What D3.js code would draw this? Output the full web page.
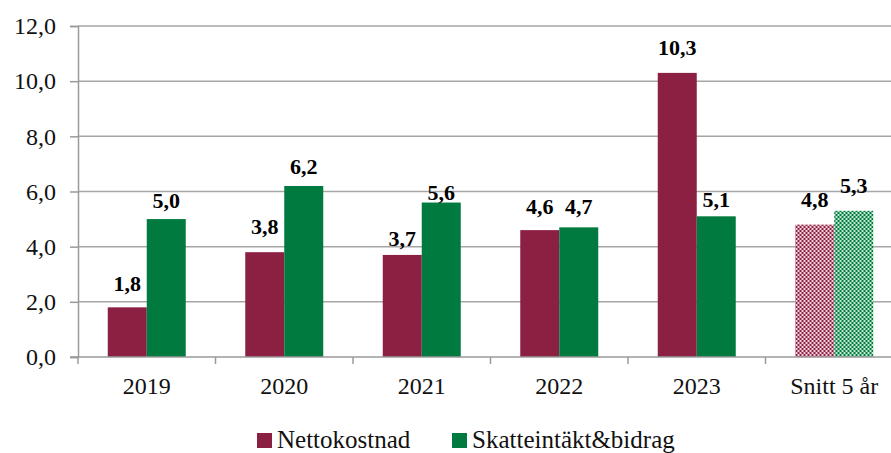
<!DOCTYPE html>
<html>
<head>
<meta charset="utf-8">
<script src="https://cdn.jsdelivr.net/npm/d3@7"></script>
<style>
  @font-face { font-family: 'ChartSerif'; src: local('Liberation Serif'), local('LiberationSerif'); font-weight: normal; }
  @font-face { font-family: 'ChartSerif'; src: local('Liberation Serif Bold'), local('LiberationSerif-Bold'); font-weight: bold; }
</style>
</head>
<body style="margin:0">
<svg class="chart" width="891" height="453"></svg>
<script>
const width = 891;
const height = 453;

// data
const categories = ['2019', '2020', '2021', '2022', '2023', 'Snitt 5 år'];
const series = ['Nettokostnad', 'Skatteintäkt&bidrag'];
const nettokostnad = [1.8, 3.8, 3.7, 4.6, 10.3, 4.8];
const skatteintakt = [5.0, 6.2, 5.6, 4.7, 5.1, 5.3];
const yTicks = [0, 2, 4, 6, 8, 10, 12];

const colors = ['#8b2042', '#007a3f'];
const lightColors = ['#f2d3dc', '#c4e8d2'];
// how far each value label sits above its bar (px), as placed in the original
const labelLift = [[16, 18, 9, 16, 18, 18], [11, 12, 3, 13, 9, 18]];

const plotLeft = 78, plotRight = 903, plotTop = 26, plotBottom = 357;

const svg = d3.select('.chart')

const serifText = sel => sel
  .attr('font-family', 'Liberation Serif')
  .style('font-family', '"Liberation Serif", ChartSerif, monospace')

const defs = svg.append('defs')
colors.forEach((c, i) => {
  const p = defs.append('pattern')
    .attr('id', 'hatch' + i)
    .attr('width', 4).attr('height', 4)
    .attr('patternUnits', 'userSpaceOnUse')
  p.append('rect').attr('width', 4).attr('height', 4).attr('fill', lightColors[i])
  p.append('rect').attr('width', 2).attr('height', 2).attr('fill', c)
  p.append('rect').attr('x', 2).attr('y', 2).attr('width', 2).attr('height', 2).attr('fill', c)
})

const x = d3.scaleBand()
  .domain(categories)
  .range([plotLeft, plotRight])
  .padding(0)

const xInner = d3.scaleBand()
  .domain(series)
  .range([0, x.bandwidth()])
  .paddingInner(0)
  .paddingOuter(0.763)

const y = d3.scaleLinear()
  .domain([0, 12])
  .range([plotBottom, plotTop])

const fmt = d => d3.format('.1f')(d).replace('.', ',')

// gridlines
svg.append('g')
  .selectAll('line')
  .data(yTicks.slice(1))
  .enter()
  .append('line')
  .attr('x1', plotLeft).attr('x2', width)
  .attr('y1', d => y(d)).attr('y2', d => y(d))
  .attr('stroke', '#a6a6a6')
  .attr('stroke-width', 1.5)

// y axis
const yAxis = svg.append('g')
  .attr('transform', `translate(${plotLeft},0)`)
  .call(d3.axisLeft(y).tickValues(yTicks).tickFormat(fmt).tickSize(8).tickPadding(14))
yAxis.attr('font-family', 'Liberation Serif').attr('font-size', 24)
yAxis.select('.domain').attr('stroke', '#9a9a9a').attr('stroke-width', 1.5)
yAxis.selectAll('.tick line').attr('stroke', '#9a9a9a').attr('stroke-width', 1.5)
yAxis.selectAll('.tick text')
  .call(serifText)
  .attr('font-size', 24)
  .attr('fill', '#111')

// bars
const rows = categories.map((c, i) => ({ cat: c, i: i, vals: [nettokostnad[i], skatteintakt[i]] }))
const groups = svg.append('g')
  .selectAll('g')
  .data(rows)
  .enter()
  .append('g')
  .attr('transform', d => `translate(${x(d.cat)},0)`)

groups.selectAll('rect')
  .data(d => d.vals.map((v, s) => ({ v: v, s: s, i: d.i })))
  .enter()
  .append('rect')
  .attr('x', d => xInner(series[d.s]))
  .attr('width', xInner.bandwidth())
  .attr('y', d => y(d.v))
  .attr('height', d => y(0) - y(d.v))
  .attr('fill', d => d.i === categories.length - 1 ? `url(#hatch${d.s})` : colors[d.s])

groups.selectAll('text')
  .data(d => d.vals.map((v, s) => ({ v: v, s: s, i: d.i })))
  .enter()
  .append('text')
  .attr('x', d => xInner(series[d.s]) + xInner.bandwidth() / 2)
  .attr('y', d => y(d.v) - labelLift[d.s][d.i])
  .attr('text-anchor', 'middle')
  .call(serifText)
  .attr('font-size', 22)
  .attr('font-weight', 'bold')
  .attr('fill', '#000')
  .text(d => fmt(d.v))

// x axis
const xAxisG = svg.append('g')
  .attr('transform', `translate(0,${plotBottom})`)
xAxisG.append('line')
  .attr('x1', plotLeft - 8).attr('x2', width)
  .attr('stroke', '#9a9a9a').attr('stroke-width', 1.5)
xAxisG.selectAll('.tk')
  .data(categories.slice(1))
  .enter()
  .append('line')
  .attr('x1', d => x(d)).attr('x2', d => x(d))
  .attr('y1', 0).attr('y2', 7)
  .attr('stroke', '#9a9a9a').attr('stroke-width', 1.5)
xAxisG.append('line')
  .attr('x1', plotLeft).attr('x2', plotLeft).attr('y1', 0).attr('y2', 7)
  .attr('stroke', '#9a9a9a').attr('stroke-width', 1.5)
xAxisG.selectAll('text')
  .data(categories)
  .enter()
  .append('text')
  .attr('x', d => x(d) + x.bandwidth() / 2)
  .attr('y', 37)
  .attr('text-anchor', 'middle')
  .call(serifText)
  .attr('font-size', 24)
  .attr('fill', '#111')
  .text(d => d)

// legend
const legendX = [257, 452];
const legend = svg.append('g')
  .selectAll('g')
  .data(series)
  .enter()
  .append('g')
  .attr('transform', (d, i) => `translate(${legendX[i]},433)`)
legend.append('rect')
  .attr('width', 15).attr('height', 15)
  .attr('fill', (d, i) => colors[i])
legend.append('text')
  .attr('x', 20).attr('y', 15)
  .call(serifText)
  .attr('font-size', 25)
  .attr('fill', '#111')
  .text(d => d)
</script>
</body>
</html>
